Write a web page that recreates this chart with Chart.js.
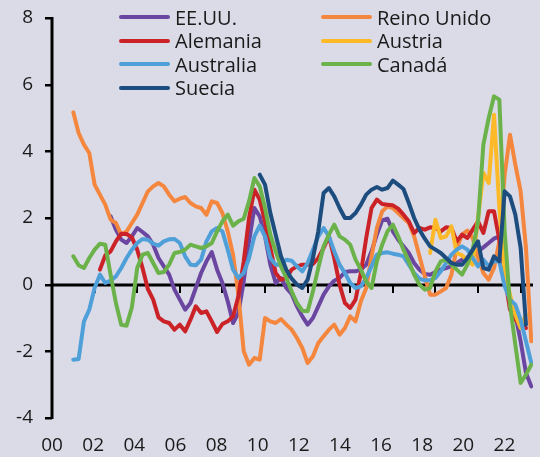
<!DOCTYPE html>
<html>
<head>
<meta charset="utf-8">
<script src="https://cdn.jsdelivr.net/npm/chart.js@4.4.1/dist/chart.umd.min.js"></script>
<style>
  html, body { margin: 0; padding: 0; background: #dadbe7; overflow: hidden; }
  #wrap { position: relative; width: 540px; height: 457px; }
  #chart { display: block; }
  #legend { position: absolute; left: 0; top: 0; font-family: "Open Sans", sans-serif; font-size: 20px; color: #1a1a1a; }
  .item { position: absolute; display: flex; align-items: center; height: 24px; white-space: nowrap; }
  .swatch { display: inline-block; width: 51px; height: 4px; border-radius: 2px; margin-right: 5px; }
</style>
</head>
<body>
<div id="wrap">
  <canvas id="chart" width="540" height="457"></canvas>
  <div id="legend"></div>
</div>
<script>
// Quarterly readings, each series starts at its own quarter
const yearTicks = [2000, 2002, 2004, 2006, 2008, 2010, 2012, 2014, 2016, 2018, 2020, 2022];
const valueTicks = [-4, -2, 0, 2, 4, 6, 8];

const eeuuStart = 2002.75;
const eeuu = [2.05,
  1.65, 1.35, 1.25, 1.45,  1.7, 1.58, 1.45, 1.2,  0.8, 0.55, 0.3, -0.15,
  -0.45, -0.75, -0.55, -0.1,  0.35, 0.7, 0.98, 0.45,  0.05, -0.5, -1.15, -0.85,
  0.1, 1.3, 2.3, 2.05,  1.45, 0.6, 0.05, 0.2,  -0.1, -0.28, -0.65, -0.95,
  -1.2, -1.0, -0.65, -0.3,  -0.05, 0.12, 0.2, 0.38,  0.4, 0.4, 0.45, 0.6,
  1.0, 1.5, 1.93, 1.98,  1.6, 1.35, 1.15, 0.95,  0.65, 0.45, 0.32, 0.3,
  0.38, 0.45, 0.5, 0.55,  0.65, 0.75, 0.82, 0.88,  1.0, 1.12, 1.25, 1.38,
  1.45, 0.4, -0.5, -0.9,  -1.7, -2.65, -3.05];

const reinoUnidoStart = 2001;
const reinoUnido = [
  5.17, 4.55, 4.2, 3.95,  3.0, 2.7, 2.4, 1.95,  1.85, 1.5, 1.6, 1.85,
  2.1, 2.45, 2.8, 2.95,  3.05, 2.95, 2.7, 2.5,  2.58, 2.63, 2.45, 2.35,
  2.3, 2.1, 2.5, 2.45,  2.15, 1.6, 0.9, -0.3,  -2.0, -2.4, -2.2, -2.25,
  -1.0, -1.1, -1.15, -1.03,  -1.2, -1.35, -1.6, -1.9,  -2.35, -2.15, -1.75, -1.55,
  -1.35, -1.2, -1.5, -1.3,  -0.95, -1.1, -0.5, -0.1,  0.85, 1.7, 2.2, 2.35,
  2.3, 2.15, 2.0, 1.85,  1.45, 0.85, 0.25, -0.3,  -0.3, -0.2, -0.1, 0.3,
  1.1, 1.5, 1.62, 1.4,  0.8, 0.35, 0.15, 0.5,  1.3, 3.3, 4.5, 3.6,
  2.8, 1.1, -1.7];

const alemaniaStart = 2002.25;
const alemania = [0.45, 0.88, 1.0,
  1.3, 1.53, 1.52, 1.42,  1.05, 0.5, -0.13, -0.45,  -0.98, -1.1, -1.15, -1.35,
  -1.2, -1.4, -1.05, -0.65,  -0.85, -0.8, -1.1, -1.42,  -1.18, -1.1, -0.95, -0.35,
  0.7, 2.0, 2.85, 2.55,  1.9, 1.1, 0.35, 0.15,  0.2, 0.45, 0.55, 0.6,
  0.6, 0.62, 0.8, 1.1,  1.45, 0.8, 0.0, -0.55,  -0.7, -0.45, 0.35, 1.4,
  2.3, 2.55, 2.42, 2.4,  2.38, 2.28, 2.1, 1.9,  1.55, 1.7, 1.65, 1.72,
  1.7, 1.6, 1.72, 1.7,  1.3, 1.5, 1.4, 1.65,  1.9, 1.55, 2.2, 2.2,
  1.35, 0.25, -0.75, -1.05,  -1.22, -1.3];

const austriaStart = 2017.75;
const austria = [0.95,
  1.95, 1.4, 1.45, 1.75,  0.95, 0.88, 0.72, 0.6,  2.0, 3.35, 3.05, 5.1,
  2.3, 0.35, -0.3, -0.9,  -1.3, -0.9];

const australiaStart = 2001;
const australia = [
  -2.25, -2.23, -1.1, -0.75,  -0.1, 0.3, 0.05, 0.12,  0.25, 0.5, 0.8, 1.05,
  1.25, 1.37, 1.35, 1.23,  1.17, 1.3, 1.36, 1.37,  1.25, 0.85, 0.6, 0.58,
  0.75, 1.3, 1.6, 1.7,  1.6, 1.05, 0.45, 0.2,  0.35, 0.8, 1.45, 1.77,
  1.45, 0.8, 0.6, 0.6,  0.75, 0.72, 0.55, 0.4,  0.65, 1.05, 1.45, 1.7,
  1.45, 1.0, 0.6, 0.35,  0.05, -0.1, -0.05, 0.2,  0.55, 0.9, 0.95, 0.97,
  0.93, 0.9, 0.85, 0.6,  0.35, 0.18, 0.13, 0.13,  0.2, 0.4, 0.65, 0.9,
  1.05, 1.15, 1.05, 0.8,  0.55, 0.75, 0.55, 0.7,  0.7, -0.05, -0.45, -0.6,
  -1.05, -1.7, -2.35];

const canadaStart = 2001;
const canada = [
  0.85, 0.58, 0.5, 0.8,  1.05, 1.23, 1.2, 0.3,  -0.55, -1.2, -1.23, -0.68,
  0.5, 0.9, 0.95, 0.65,  0.35, 0.38, 0.6, 0.95,  0.98, 1.05, 1.2, 1.15,
  1.1, 1.15, 1.25, 1.6,  1.9, 2.1, 1.77, 1.9,  1.98, 2.5, 3.2, 2.95,
  2.3, 1.5, 1.0, 0.55,  0.2, -0.2, -0.55, -0.78,  -0.8, -0.2, 0.5, 1.15,
  1.5, 1.8, 1.45, 1.35,  1.2, 0.75, 0.45, 0.1,  -0.1, 0.7, 1.2, 1.6,
  1.8, 1.45, 1.05, 0.7,  0.3, 0.0, -0.15, -0.1,  0.4, 0.7, 0.75, 0.6,
  0.45, 0.3, 0.6, 1.05,  1.9, 4.2, 5.0, 5.65,  5.55, 1.6, -0.6, -1.8,
  -2.95, -2.7, -2.4];

const sueciaStart = 2009.75;
const suecia = [3.3,
  3.0, 2.15, 1.5, 0.85,  0.45, 0.18, 0.0, -0.1,  0.15, 0.8, 1.6, 2.75,
  2.9, 2.65, 2.3, 2.0,  2.0, 2.15, 2.4, 2.7,  2.85, 2.93, 2.85, 2.9,
  3.12, 3.0, 2.87, 2.45,  2.0, 1.65, 1.38, 1.15,  1.05, 0.95, 0.8, 0.65,
  0.6, 0.6, 0.8, 1.05,  1.3, 0.5, 0.45, 0.85,  0.7, 2.8, 2.65, 2.1,
  1.1, -1.2];

const series = [
  { label: "EE.UU.", start: eeuuStart, values: eeuu, color: "#6b46a1" },
  { label: "Reino Unido", start: reinoUnidoStart, values: reinoUnido, color: "#f4873d" },
  { label: "Alemania", start: alemaniaStart, values: alemania, color: "#cb2228" },
  { label: "Austria", start: austriaStart, values: austria, color: "#fdb927" },
  { label: "Australia", start: australiaStart, values: australia, color: "#4f9fd9" },
  { label: "Canadá", start: canadaStart, values: canada, color: "#6cb24a" },
  { label: "Suecia", start: sueciaStart, values: suecia, color: "#1c4d7e" }
];

const textColor = "#1a1a1a";
const tickFont = { family: "'Open Sans', sans-serif", size: 19 };

// legend: two columns, row-major like the original
const legendEl = document.getElementById("legend");
series.forEach((s, i) => {
  const col = i % 2, row = Math.floor(i / 2);
  const item = document.createElement("div");
  item.className = "item";
  item.style.left = (col === 0 ? 119 : 321) + "px";
  item.style.top = (5 + row * 23.5) + "px";
  item.innerHTML = `<span class="swatch" style="background:${s.color}"></span><span>${s.label}</span>`;
  legendEl.appendChild(item);
});

// zero line with ticks hanging under it (below the series)
const zeroLine = {
  id: "zeroLine",
  beforeDatasetsDraw(chart) {
    const { ctx, chartArea, scales } = chart;
    const y0 = Math.round(scales.y.getPixelForValue(0));
    ctx.save();
    ctx.fillStyle = "#000";
    ctx.fillRect(chartArea.left, y0 - 1.5, chartArea.right - chartArea.left, 3);
    yearTicks.forEach(v => {
      const px = Math.round(scales.x.getPixelForValue(v));
      ctx.fillRect(px - 1, y0, 2, 8);
    });
    ctx.restore();
  }
};

// left value axis with ticks pointing outwards
const valueAxis = {
  id: "valueAxis",
  afterDraw(chart) {
    const { ctx, chartArea, scales } = chart;
    const x0 = Math.round(chartArea.left);
    const top = Math.round(scales.y.getPixelForValue(8));
    const bottom = Math.round(scales.y.getPixelForValue(-4));
    ctx.save();
    ctx.fillStyle = "#000";
    ctx.fillRect(x0 - 1.5, top - 1, 3, bottom - top + 2);
    valueTicks.forEach(v => {
      const py = Math.round(scales.y.getPixelForValue(v));
      ctx.fillRect(x0 - 7, py - 1, 7, 2.5);
    });
    ctx.restore();
  }
};

new Chart(document.getElementById("chart"), {
  type: "line",
  data: {
    datasets: series.map((s, i) => ({
      label: s.label,
      data: s.values.map((v, k) => ({ x: s.start + k * 0.25, y: v })),
      borderColor: s.color,
      backgroundColor: s.color,
      xAxisID: "x",
      order: series.length - i
    }))
  },
  options: {
    responsive: false,
    animation: false,
    layout: { padding: { top: 18, right: 7, bottom: 0, left: 16 } },
    plugins: { legend: { display: false }, tooltip: { enabled: false } },
    elements: {
      point: { radius: 0 },
      line: { tension: 0, borderWidth: 4, borderJoinStyle: "round", borderCapStyle: "round" }
    },
    scales: {
      x: { type: "linear", min: 2000, max: 2022.58, display: false },
      xl: {
        type: "linear",
        position: "bottom",
        min: 2000,
        max: 2023.39,
        grid: { display: false, drawTicks: false },
        border: { display: false },
        afterBuildTicks: scale => { scale.ticks = yearTicks.map(v => ({ value: v })); },
        afterFit: scale => { scale.height = 39; scale.paddingLeft = 0; scale.paddingRight = 0; },
        ticks: {
          autoSkip: false,
          maxRotation: 0,
          padding: 16,
          color: textColor,
          font: tickFont,
          callback: v => String(v - 2000).padStart(2, "0")
        }
      },
      y: {
        min: -4,
        max: 8,
        afterBuildTicks: scale => { scale.ticks = valueTicks.map(v => ({ value: v })); },
        afterFit: scale => { scale.width = 36; scale.paddingTop = 0; scale.paddingBottom = 0; },
        ticks: { padding: 19, color: textColor, font: tickFont },
        grid: { display: false, drawTicks: false },
        border: { display: false }
      }
    }
  },
  plugins: [zeroLine, valueAxis]
});
</script>
</body>
</html>
